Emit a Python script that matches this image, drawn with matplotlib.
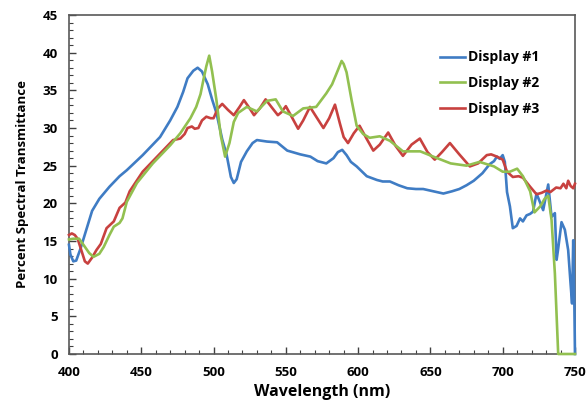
import matplotlib.pyplot as plt
from matplotlib.ticker import MultipleLocator

# Display #1 (blue)
wl1 = [400, 401, 403, 405, 408, 412, 416, 421, 428, 435, 440, 451, 463, 470, 475, 479,
       482, 486, 489, 492, 496, 499, 502, 506, 509, 512, 514, 516, 519, 523, 527, 530,
       537, 544, 551, 560, 567, 572, 578, 583, 586, 589, 592, 595, 599, 606, 613, 617,
       622, 628, 634, 640, 645, 652, 659, 665, 670, 675, 680, 686, 691, 694, 696, 698,
       700, 701.5, 703, 705, 707, 709.6, 712, 714, 716.5, 719, 721, 723.4, 725.7, 728,
       731.5, 733.8, 736.1, 737.3, 738.4, 740.7, 743, 745.3, 746.9, 748, 748.8, 749.5, 750]
t1 = [14.5, 13.2, 12.3, 12.4, 14.0, 16.5, 19.0, 20.6, 22.2, 23.6, 24.4, 26.4, 28.8, 31.0, 32.8, 34.8,
      36.6, 37.6, 38.0, 37.5, 35.8, 33.8, 32.0, 28.5, 26.5, 23.5, 22.7, 23.2, 25.5, 26.9, 28.0, 28.4,
      28.2, 28.1, 27.0, 26.5, 26.2, 25.6, 25.3, 26.0, 26.8, 27.1, 26.4, 25.5, 24.9, 23.6, 23.1, 22.9,
      22.9, 22.4, 22.0, 21.9, 21.9, 21.6, 21.3, 21.6, 21.9, 22.4, 23.0, 24.0, 25.2, 25.6, 26.2, 25.9,
      26.4, 25.5, 21.5, 19.6, 16.7, 17.0, 18.0, 17.6, 18.4, 18.6, 18.9, 21.3, 20.2, 19.1,
      22.5, 18.2, 18.7, 12.5, 14.0, 17.5, 16.5, 13.8, 9.5, 6.7, 15.1, 8.0, 0.0]

# Display #2 (green)
wl2 = [400, 403, 407, 410, 414, 417, 421, 424, 428, 431, 435, 437, 440, 447, 458, 470,
       477, 484, 488, 491, 493, 495, 497, 499, 502, 505, 508, 511, 514, 517, 523, 530,
       537, 543, 548, 555, 562, 571, 578, 582, 585, 588.6, 590, 592, 595.5, 599, 603.5,
       608, 615, 622, 631, 643, 652, 664, 675, 684, 689, 694, 700, 705, 710, 714, 719,
       722, 726, 729, 731.5, 733.8, 736.1, 738.4, 750]
t2 = [15.2, 15.3, 15.3, 14.5, 13.4, 12.9, 13.3, 14.2, 15.8, 16.9, 17.4, 18.0, 20.2, 22.7, 25.3, 27.7,
      29.3, 31.3, 32.8, 34.5, 36.4, 38.2, 39.6, 37.5, 33.7, 29.0, 26.2, 28.0, 30.8, 32.0, 32.8, 32.2,
      33.6, 33.8, 32.2, 31.6, 32.6, 32.8, 34.6, 35.8, 37.2, 38.9, 38.5, 37.4, 33.7, 30.3, 29.2,
      28.7, 28.9, 28.3, 26.9, 26.9, 26.2, 25.3, 25.0, 25.5, 25.2, 24.9, 24.2, 24.2, 24.6, 23.6, 21.6,
      18.8, 19.6, 20.6, 21.0, 17.8, 10.7, 0.0, 0.0]

# Display #3 (red)
wl3 = [400, 402, 404, 406, 409, 411, 413, 416, 419, 422, 426, 431, 435, 439, 442, 451,
       463, 472, 477, 480, 482, 485, 487, 489.5, 492, 495, 498, 500, 503, 506, 510, 514,
       518, 521, 525, 528, 532, 536, 540, 544.5, 547, 550, 554, 558.5, 562, 566.7, 571,
       576, 580, 584, 587.4, 590, 593, 597, 601, 605.8, 610.5, 615, 620.8, 626, 631, 637,
       642.7, 648, 653, 658, 663.5, 670, 677.3, 683, 689, 692, 696, 700, 703, 707, 711,
       714, 719, 723.4, 727, 730.3, 733, 737, 740, 742, 744, 745.3, 747, 748.8, 750]
t3 = [15.8, 16.0, 15.8, 15.3, 13.5, 12.3, 12.0, 12.8, 13.8, 14.6, 16.7, 17.6, 19.4, 20.1, 21.6, 24.2,
      26.6, 28.4, 28.6, 29.2, 30.0, 30.2, 29.9, 30.0, 31.0, 31.5, 31.3, 31.3, 32.6, 33.2, 32.4, 31.7,
      32.8, 33.7, 32.6, 31.7, 32.6, 33.8, 32.8, 31.7, 32.1, 32.9, 31.5, 29.9, 31.0, 32.8, 31.5,
      30.0, 31.3, 33.1, 30.6, 28.8, 28.0, 29.3, 30.3, 28.6, 27.0, 27.8, 29.4, 27.6, 26.3, 27.8,
      28.6, 26.8, 25.8, 26.8, 28.0, 26.5, 24.9, 25.3, 26.4, 26.5, 26.2, 25.8, 24.2, 23.5, 23.6,
      23.4, 22.2, 21.2, 21.4, 21.7, 21.5, 22.1, 22.0, 22.6, 22.0, 23.0, 22.3, 22.0, 22.6]

plt.rcParams['font.family'] = ['Open Sans', 'DejaVu Sans']
plt.rcParams['font.weight'] = 'bold'

fig = plt.figure(figsize=(5.87, 4.0), dpi=100)
ax = fig.add_axes([0.1175, 0.115, 0.862, 0.8475])

ax.plot(wl1, t1, color='#3F7CC4', lw=1.9, label='Display #1', clip_on=False, zorder=3)
ax.plot(wl2, t2, color='#92C050', lw=1.9, label='Display #2', clip_on=False, zorder=4)
ax.plot(wl3, t3, color='#C8413F', lw=1.9, label='Display #3', clip_on=False, zorder=3)

ax.set_xlim(400, 750)
ax.set_ylim(0, 45)
ax.xaxis.set_major_locator(MultipleLocator(50))
ax.xaxis.set_minor_locator(MultipleLocator(10))
ax.yaxis.set_major_locator(MultipleLocator(5))
ax.yaxis.set_minor_locator(MultipleLocator(1))
ax.tick_params(which='both', direction='in', color='#404040', labelsize=9.5)
ax.tick_params(which='major', length=5, width=1)
ax.tick_params(axis='x', which='major', pad=9)
ax.tick_params(axis='y', which='major', pad=8)
ax.tick_params(which='minor', length=3, width=0.8)

for s in ax.spines.values():
    s.set_color('#595959')
    s.set_linewidth(1.2)

ax.set_xlabel('Wavelength (nm)', fontsize=11.5, fontweight='bold', labelpad=3)
ax.set_ylabel('Percent Spectral Transmittance', fontsize=9.5, fontweight='bold', labelpad=10)

ax.legend(loc='upper left', bbox_to_anchor=(0.729, 0.905), bbox_transform=fig.transFigure,
          frameon=False, handlelength=1.8, handletextpad=0.15,
          labelspacing=0.85, prop={'weight': 'bold', 'size': 10})

fig.savefig('out.png', dpi=100)
